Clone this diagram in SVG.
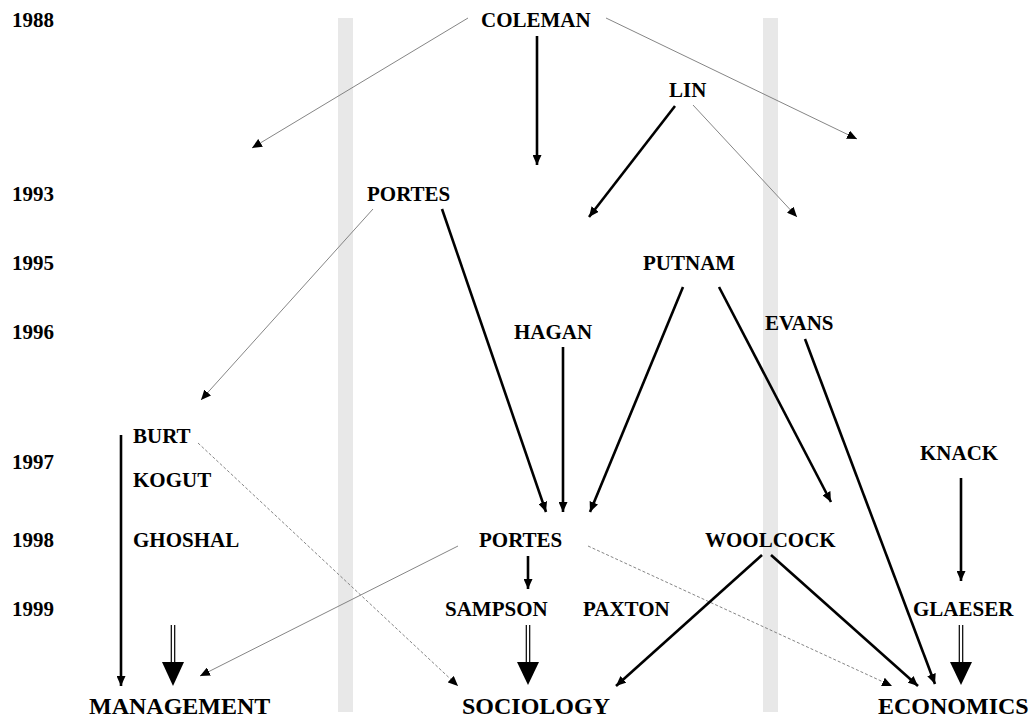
<svg xmlns="http://www.w3.org/2000/svg" width="1035" height="722" viewBox="0 0 1035 722">
<style>
text{font-family:"Liberation Serif","Times New Roman",serif;font-weight:bold;fill:#000}
.n{font-size:21px}
.y{font-size:21px}
.d{font-size:24px}
.thick{stroke:#000;stroke-width:2.6;fill:none}
.thin{stroke:#777;stroke-width:0.9;fill:none}
.dash{stroke:#777;stroke-width:0.9;fill:none;stroke-dasharray:3 2}
.dbl{stroke:#000;stroke-width:1.2}
</style>
<defs>
<marker id="ah" markerUnits="userSpaceOnUse" markerWidth="10" markerHeight="9" refX="10" refY="4.5" orient="auto" viewBox="0 0 10 9">
<path d="M0,0 L10,4.5 L0,9 z" fill="#000"/>
</marker>
</defs>
<rect x="338" y="18" width="15" height="694" fill="#e8e8e8"/>
<rect x="763" y="18" width="15" height="694" fill="#e8e8e8"/>
<g id="years">
<text class="y" x="12" y="27">1988</text>
<text class="y" x="12" y="201">1993</text>
<text class="y" x="12" y="270">1995</text>
<text class="y" x="12" y="339">1996</text>
<text class="y" x="12" y="469">1997</text>
<text class="y" x="12" y="547">1998</text>
<text class="y" x="12" y="616">1999</text>
</g>
<g id="connectors">
<line class="thin" x1="468" y1="18" x2="252" y2="148" marker-end="url(#ah)"/>
<line class="thick" x1="537" y1="36" x2="537" y2="165" marker-end="url(#ah)"/>
<line class="thin" x1="606" y1="18" x2="857" y2="139" marker-end="url(#ah)"/>
<line class="thick" x1="675" y1="106" x2="589" y2="217" marker-end="url(#ah)"/>
<line class="thin" x1="693" y1="105" x2="797" y2="217" marker-end="url(#ah)"/>
<line class="thin" x1="373" y1="209" x2="201" y2="400" marker-end="url(#ah)"/>
<line class="thick" x1="442" y1="209" x2="546" y2="512" marker-end="url(#ah)"/>
<line class="thick" x1="563" y1="347" x2="563" y2="512" marker-end="url(#ah)"/>
<line class="thick" x1="683" y1="287" x2="590" y2="512" marker-end="url(#ah)"/>
<line class="thick" x1="719" y1="287" x2="831" y2="502" marker-end="url(#ah)"/>
<line class="thick" x1="805" y1="339" x2="935" y2="684" marker-end="url(#ah)"/>
<line class="thick" x1="961" y1="478" x2="961" y2="581" marker-end="url(#ah)"/>
<line class="thick" x1="121" y1="435" x2="121" y2="686" marker-end="url(#ah)"/>
<line class="dash" x1="198" y1="443" x2="458" y2="686" marker-end="url(#ah)"/>
<line class="thin" x1="458" y1="546" x2="200" y2="676" marker-end="url(#ah)"/>
<line class="thick" x1="528" y1="556" x2="528" y2="589" marker-end="url(#ah)"/>
<line class="dash" x1="588" y1="546" x2="892" y2="686" marker-end="url(#ah)"/>
<line class="thick" x1="762" y1="555" x2="616" y2="686" marker-end="url(#ah)"/>
<line class="thick" x1="771" y1="555" x2="918" y2="686" marker-end="url(#ah)"/>
<g id="bigarrow-management">
<line class="dbl" x1="171.3" y1="625" x2="171.3" y2="663"/>
<line class="dbl" x1="174.7" y1="625" x2="174.7" y2="663"/>
<path d="M162,662 L184,662 L173,686 z" fill="#000"/>
</g>
<g id="bigarrow-sociology">
<line class="dbl" x1="526.3" y1="625" x2="526.3" y2="663"/>
<line class="dbl" x1="529.7" y1="625" x2="529.7" y2="663"/>
<path d="M517,662 L539,662 L528,685 z" fill="#000"/>
</g>
<g id="bigarrow-economics">
<line class="dbl" x1="959.3" y1="625" x2="959.3" y2="663"/>
<line class="dbl" x1="962.7" y1="625" x2="962.7" y2="663"/>
<path d="M950,662 L972,662 L961,685 z" fill="#000"/>
</g>
</g>
<g id="coleman"><text class="n" x="481" y="27">COLEMAN</text></g>
<g id="lin"><text class="n" x="669" y="97">LIN</text></g>
<g id="portes1993"><text class="n" x="367" y="201">PORTES</text></g>
<g id="putnam"><text class="n" x="643" y="270">PUTNAM</text></g>
<g id="hagan"><text class="n" x="514" y="339">HAGAN</text></g>
<g id="evans"><text class="n" x="765" y="330">EVANS</text></g>
<g id="burt"><text class="n" x="133" y="443">BURT</text></g>
<g id="kogut"><text class="n" x="133" y="487">KOGUT</text></g>
<g id="ghoshal"><text class="n" x="133" y="547">GHOSHAL</text></g>
<g id="knack"><text class="n" x="920" y="460">KNACK</text></g>
<g id="portes1998"><text class="n" x="479" y="547">PORTES</text></g>
<g id="woolcock"><text class="n" x="705" y="547">WOOLCOCK</text></g>
<g id="sampson"><text class="n" x="445" y="616">SAMPSON</text></g>
<g id="paxton"><text class="n" x="583" y="616">PAXTON</text></g>
<g id="glaeser"><text class="n" x="913" y="616">GLAESER</text></g>
<g id="management"><text class="d" x="89" y="714">MANAGEMENT</text></g>
<g id="sociology"><text class="d" x="462" y="714">SOCIOLOGY</text></g>
<g id="economics"><text class="d" x="878" y="714">ECONOMICS</text></g>
</svg>
